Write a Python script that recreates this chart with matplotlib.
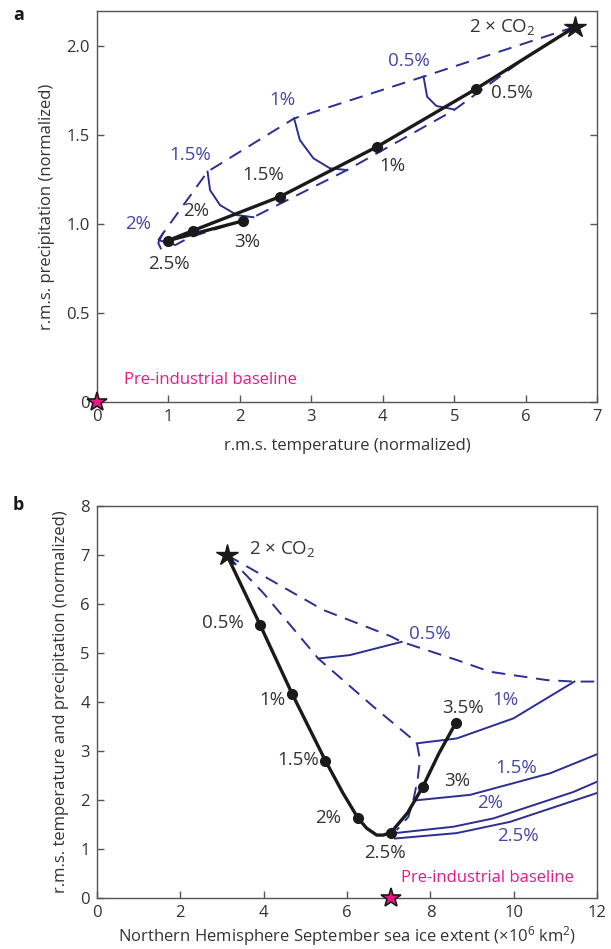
import matplotlib
matplotlib.use("Agg")
from matplotlib import pyplot as plt

plt.rcParams['font.family'] = ['Open Sans', 'DejaVu Sans']
plt.rcParams['mathtext.fontset'] = 'custom'
plt.rcParams['mathtext.rm'] = 'Open Sans'
plt.rcParams['mathtext.it'] = 'Open Sans'

BLACK = '#1a1a1a'
BLUE = '#2b2e92'
BLUE_TXT = '#4546a8'
MAGENTA = '#e8178a'
GREY = '#333333'

# ---- panel a: r.m.s. temperature vs r.m.s. precipitation ----
a_rates = ['0.5%', '1%', '1.5%', '2%', '2.5%', '3%']
a_temp = [5.30, 3.92, 2.56, 1.34, 0.99, 2.04]
a_prec = [1.76, 1.436, 1.155, 0.964, 0.908, 1.019]
a_co2 = (6.69, 2.11)

# dashed envelopes
a_up_x = [6.69, 4.57, 2.76, 1.55, 0.86]
a_up_y = [2.11, 1.83, 1.595, 1.296, 0.912]
a_lo_x = [6.69, 6.01, 4.99, 3.50, 2.19, 1.30, 1.10, 0.86]
a_lo_y = [2.11, 1.94, 1.64, 1.305, 1.04, 0.927, 0.884, 0.912]

# solid blue connecting curves
a_c05 = ([4.57, 4.62, 4.75, 4.99], [1.83, 1.717, 1.665, 1.646])
a_c1 = ([2.76, 2.84, 3.03, 3.26, 3.50], [1.595, 1.474, 1.371, 1.315, 1.305])
a_c15 = ([1.55, 1.585, 1.725, 1.96, 2.19], [1.296, 1.192, 1.108, 1.052, 1.04])
a_c2 = ([0.93, 0.86, 0.895], [0.953, 0.897, 0.865])

a_lab_black = [(5.80, 1.74), (4.14, 1.33), (2.33, 1.28), (1.39, 1.076), (1.01, 0.775), (2.10, 0.90)]
a_lab_blue = {'0.5%': (4.36, 1.92), '1%': (2.60, 1.70), '1.5%': (1.30, 1.39), '2%': (0.58, 1.00)}

# ---- panel b: sea ice extent vs combined r.m.s. ----
b_rates = ['0.5%', '1%', '1.5%', '2%', '2.5%', '3%', '3.5%']
b_ice = [3.92, 4.69, 5.48, 6.26, 7.05, 7.82, 8.61]
b_rms = [5.57, 4.16, 2.81, 1.64, 1.34, 2.28, 3.58]
b_co2 = (3.12, 7.0)
b_pi = (7.05, 0.0)
# path of the black curve (markers plus the dip between 2% and 2.5%)
b_path_x = [3.12, 3.92, 4.69, 5.48, 5.90, 6.26, 6.47, 6.71, 6.87, 7.05, 7.45, 7.82, 8.20, 8.61]
b_path_y = [7.0, 5.57, 4.16, 2.81, 2.15, 1.64, 1.43, 1.29, 1.29, 1.34, 1.74, 2.28, 2.95, 3.58]

b_up_x = [3.12, 5.43, 7.03, 7.31, 8.63, 9.43, 10.23, 10.79, 11.43, 12.0]
b_up_y = [7.0, 5.88, 5.35, 5.23, 4.86, 4.62, 4.52, 4.45, 4.42, 4.42]
b_lo_x = [3.12, 4.0, 5.31, 6.63, 7.59, 7.67, 7.75, 7.69, 7.59, 7.47, 7.19]
b_lo_y = [7.0, 6.22, 4.89, 3.91, 3.23, 3.19, 2.82, 2.41, 2.0, 1.66, 1.39]

b_c05 = ([5.31, 6.07, 7.31], [4.89, 4.96, 5.23])
b_c1 = ([7.67, 8.63, 9.99, 11.45], [3.16, 3.26, 3.67, 4.42])
b_c15 = ([7.67, 8.95, 10.87, 12.0], [2.0, 2.11, 2.55, 2.94])
b_c2 = ([7.15, 8.55, 9.51, 11.43, 12.0], [1.33, 1.46, 1.63, 2.17, 2.38])
b_c25 = ([7.15, 8.63, 9.91, 12.0], [1.22, 1.33, 1.56, 2.15])

b_lab_black = [(3.02, 5.61), (4.22, 4.04), (4.84, 2.82), (5.55, 1.63), (6.91, 0.93), (8.63, 2.39), (8.77, 3.89)]
b_lab_blue = {'0.5%': (7.98, 5.39), '1%': (9.79, 4.04), '1.5%': (10.06, 2.66),
              '2%': (9.43, 1.94), '2.5%': (10.09, 1.27)}

fig = plt.figure(figsize=(6.11, 9.49), dpi=100)
ax1 = fig.add_axes([0.1583, 0.576, 0.8193, 0.4127])
ax2 = fig.add_axes([0.1583, 0.0534, 0.8193, 0.4134])

FS = 12      # ticks and axis labels
AFS = 13.5   # annotations


def style(ax):
    for s in ax.spines.values():
        s.set_color('#555555')
        s.set_linewidth(1.0)
    ax.tick_params(direction='in', length=5, width=1.0, color='#555555',
                   labelsize=FS, labelcolor=GREY, pad=5)


dash = dict(color=BLUE, lw=1.4, dashes=(7, 4.5))
solid = dict(color=BLUE, lw=1.4)

# panel a
style(ax1)
ax1.plot(a_up_x, a_up_y, **dash)
ax1.plot(a_lo_x, a_lo_y, **dash)
for cx, cy in [a_c05, a_c1, a_c15, a_c2]:
    ax1.plot(cx, cy, **solid)
ax1.plot([a_co2[0]] + a_temp, [a_co2[1]] + a_prec, color=BLACK, lw=2.4, zorder=5)
ax1.plot(a_temp, a_prec, 'o', color=BLACK, ms=7, zorder=6)
ax1.plot(*a_co2, marker='*', color=BLACK, ms=16, zorder=7, clip_on=False)
ax1.plot(0, 0, marker='*', color=MAGENTA, mec=BLACK, mew=1.2, ms=15, zorder=7, clip_on=False)
for lab, (x, y) in zip(a_rates, a_lab_black):
    ax1.text(x, y, lab, fontsize=AFS, color=GREY, ha='center', va='center')
for lab, (x, y) in a_lab_blue.items():
    ax1.text(x, y, lab, fontsize=AFS, color=BLUE_TXT, ha='center', va='center')
ax1.text(5.67, 2.11, '2 × CO$_2$', fontsize=AFS, color=GREY, ha='center', va='center')
ax1.text(0.38, 0.126, 'Pre-industrial baseline', fontsize=FS, color=MAGENTA, ha='left', va='center')
ax1.set_xlim(0, 7)
ax1.set_ylim(0, 2.2)
ax1.set_xticks(range(0, 8))
ax1.set_yticks([0, 0.5, 1.0, 1.5, 2.0])
ax1.set_yticklabels(['0', '0.5', '1.0', '1.5', '2.0'])
ax1.tick_params(right=True)
ax1.set_xlabel('r.m.s. temperature (normalized)', fontsize=FS, color=GREY, va='center')
ax1.xaxis.set_label_coords(0.5, -0.112)
ax1.set_ylabel('r.m.s. precipitation (normalized)', fontsize=FS, color=GREY, labelpad=8)

# panel b
style(ax2)
ax2.plot(b_up_x, b_up_y, **dash)
ax2.plot(b_lo_x, b_lo_y, **dash)
for cx, cy in [b_c05, b_c1, b_c15, b_c2, b_c25]:
    ax2.plot(cx, cy, **solid)
ax2.plot(b_path_x, b_path_y, color=BLACK, lw=2.4, zorder=5)
ax2.plot(b_ice, b_rms, 'o', color=BLACK, ms=7, zorder=6)
ax2.plot(*b_co2, marker='*', color=BLACK, ms=16, zorder=7, clip_on=False)
ax2.plot(*b_pi, marker='*', color=MAGENTA, mec=BLACK, mew=1.2, ms=15, zorder=7, clip_on=False)
for lab, (x, y) in zip(b_rates, b_lab_black):
    ax2.text(x, y, lab, fontsize=AFS, color=GREY, ha='center', va='center')
for lab, (x, y) in b_lab_blue.items():
    ax2.text(x, y, lab, fontsize=AFS, color=BLUE_TXT, ha='center', va='center')
ax2.text(4.44, 7.13, '2 × CO$_2$', fontsize=AFS, color=GREY, ha='center', va='center')
ax2.text(7.3, 0.41, 'Pre-industrial baseline', fontsize=FS, color=MAGENTA, ha='left', va='center')
ax2.set_xlim(0, 12)
ax2.set_ylim(0, 8)
ax2.set_xticks(range(0, 13, 2))
ax2.set_yticks(range(0, 9))
ax2.set_xlabel('Northern Hemisphere September sea ice extent (×10$^6$ km$^2$)',
               fontsize=FS, color=GREY, va='center')
ax2.xaxis.set_label_coords(0.5, -0.095)
ax2.set_ylabel('r.m.s. temperature and precipitation (normalized)', fontsize=FS, color=GREY, labelpad=8)

fig.text(0.03, 0.984, 'a', fontsize=FS + 1, fontweight='bold', color=BLACK, ha='center', va='center')
fig.text(0.03, 0.468, 'b', fontsize=FS + 1, fontweight='bold', color=BLACK, ha='center', va='center')

fig.savefig('out.png', dpi=100)
